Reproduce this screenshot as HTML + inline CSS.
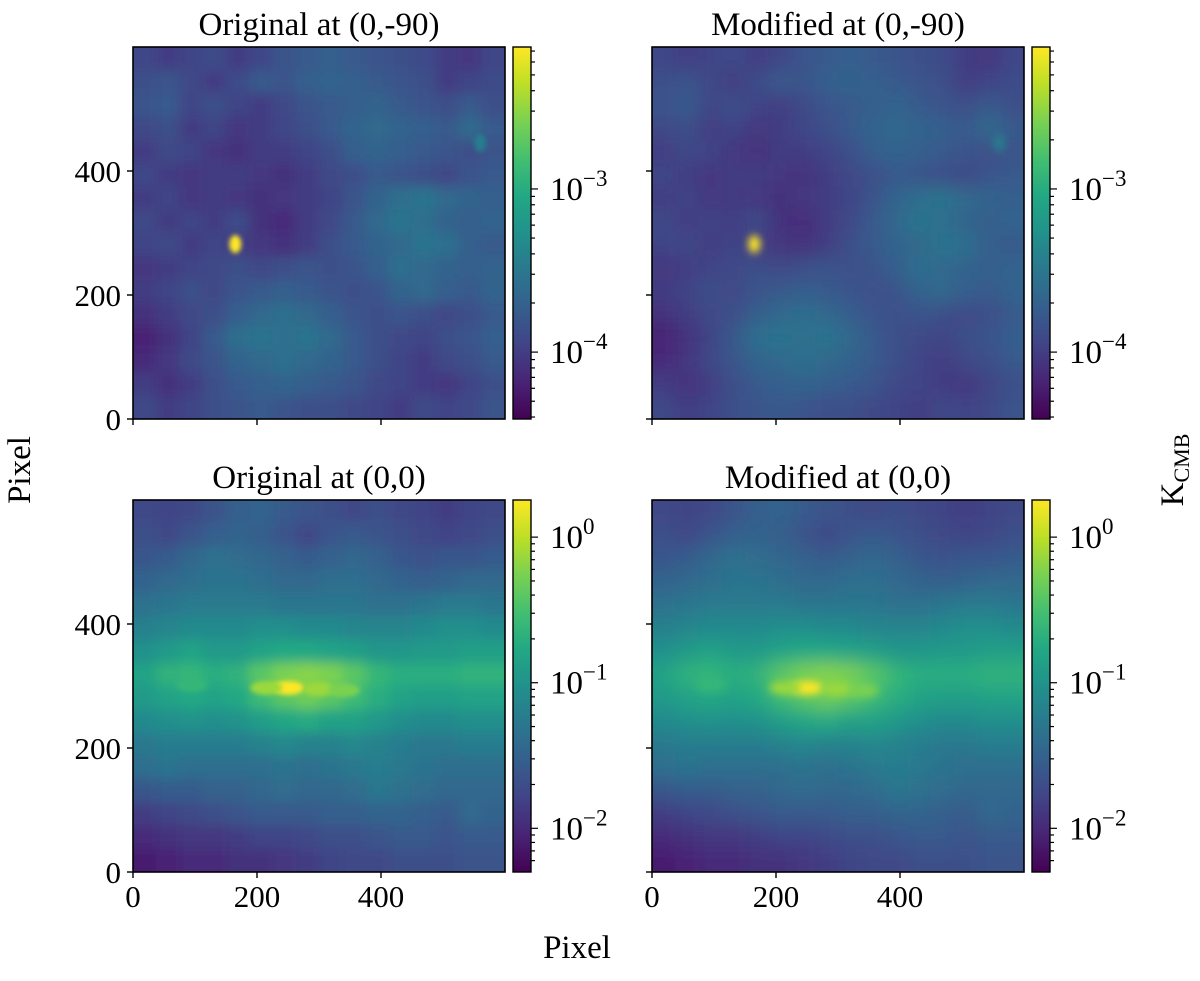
<!DOCTYPE html>
<html><head><meta charset="utf-8"><style>
body{margin:0;background:#fff;}
svg text{font-family:"Liberation Serif",serif;fill:#000;}
</style></head><body>
<svg id="fig" width="1200" height="976" viewBox="0 0 1200 976" xmlns="http://www.w3.org/2000/svg">
<defs>
<linearGradient id="vir" x1="0" y1="1" x2="0" y2="0">
<stop offset="0" stop-color="#440154"/><stop offset="0.1" stop-color="#482475"/><stop offset="0.2" stop-color="#414487"/><stop offset="0.3" stop-color="#355f8d"/><stop offset="0.4" stop-color="#2a788e"/><stop offset="0.5" stop-color="#21918c"/><stop offset="0.6" stop-color="#22a884"/><stop offset="0.7" stop-color="#44bf70"/><stop offset="0.8" stop-color="#7ad151"/><stop offset="0.9" stop-color="#bddf26"/><stop offset="1" stop-color="#fde725"/>
</linearGradient>
<filter id="b1" x="-10%" y="-10%" width="120%" height="120%"><feGaussianBlur stdDeviation="6"/></filter>
<filter id="b2" x="-10%" y="-10%" width="120%" height="120%"><feGaussianBlur stdDeviation="9"/></filter>
<filter id="s1" x="-100%" y="-100%" width="300%" height="300%"><feGaussianBlur stdDeviation="2.5"/></filter>
<filter id="s2" x="-100%" y="-100%" width="300%" height="300%"><feGaussianBlur stdDeviation="4"/></filter>
</defs>
<g id="root"></g>
</svg>
<script>
// normalized colour values (0 = colorbar bottom, 1 = colorbar top), rows top->bottom
const mapPolar = [
[.21,.18,.20,.23,.18,.21,.26,.28,.30,.28,.26,.24,.23,.18,.16,.21],
[.24,.26,.22,.18,.23,.28,.26,.30,.32,.30,.28,.26,.24,.18,.20,.23],
[.26,.28,.21,.24,.20,.18,.22,.26,.28,.30,.32,.28,.26,.24,.28,.24],
[.22,.24,.18,.20,.16,.18,.21,.24,.28,.32,.34,.32,.30,.28,.34,.28],
[.18,.22,.20,.16,.14,.18,.18,.20,.24,.30,.32,.30,.28,.26,.24,.26],
[.21,.18,.16,.18,.18,.16,.14,.18,.22,.24,.28,.26,.24,.22,.26,.28],
[.18,.20,.16,.18,.16,.14,.16,.18,.20,.26,.32,.36,.38,.34,.32,.30],
[.22,.18,.20,.18,.23,.14,.12,.18,.22,.28,.34,.38,.36,.32,.30,.32],
[.20,.22,.18,.20,.18,.16,.14,.18,.24,.28,.32,.34,.38,.36,.30,.28],
[.16,.18,.20,.22,.24,.22,.24,.26,.24,.26,.30,.36,.34,.32,.30,.32],
[.18,.20,.24,.22,.26,.28,.30,.28,.26,.24,.26,.32,.34,.30,.28,.32],
[.14,.18,.22,.24,.30,.34,.36,.34,.30,.26,.24,.26,.24,.22,.24,.28],
[.10,.14,.20,.28,.36,.38,.36,.38,.34,.28,.24,.22,.20,.24,.26,.30],
[.12,.16,.22,.26,.32,.34,.36,.34,.32,.28,.24,.20,.18,.22,.24,.28],
[.18,.14,.18,.24,.28,.30,.32,.30,.28,.26,.22,.20,.18,.16,.20,.24],
[.22,.18,.20,.24,.26,.28,.26,.24,.24,.22,.20,.18,.22,.20,.22,.26]];
const mapPlane = [
[.22,.20,.22,.26,.30,.32,.28,.26,.24,.22,.24,.22,.20,.18,.20,.22],
[.24,.22,.26,.30,.32,.30,.26,.22,.26,.28,.26,.24,.22,.20,.22,.24],
[.27,.29,.33,.37,.35,.33,.31,.29,.31,.33,.31,.27,.25,.27,.27,.29],
[.32,.34,.36,.38,.38,.36,.34,.34,.36,.36,.34,.32,.30,.32,.34,.34],
[.37,.39,.41,.41,.41,.41,.39,.39,.39,.39,.37,.37,.39,.41,.41,.39],
[.43,.45,.47,.47,.47,.49,.49,.47,.47,.45,.45,.45,.47,.49,.49,.47],
[.50,.54,.58,.54,.54,.58,.60,.60,.58,.56,.52,.52,.54,.54,.56,.56],
[.58,.64,.66,.62,.64,.74,.80,.82,.80,.74,.66,.62,.62,.62,.64,.64],
[.54,.58,.60,.58,.60,.68,.74,.78,.74,.68,.62,.58,.56,.56,.58,.58],
[.47,.49,.51,.49,.51,.55,.59,.61,.57,.57,.53,.49,.47,.47,.49,.49],
[.40,.42,.42,.42,.42,.44,.46,.44,.44,.46,.44,.42,.40,.40,.42,.42],
[.36,.38,.36,.36,.36,.36,.38,.36,.38,.40,.42,.40,.38,.36,.36,.36],
[.27,.29,.29,.31,.31,.33,.35,.33,.33,.35,.39,.37,.35,.33,.33,.33],
[.18,.20,.22,.24,.26,.28,.28,.28,.30,.30,.32,.32,.30,.28,.34,.32],
[.12,.14,.16,.16,.18,.20,.20,.22,.24,.24,.26,.28,.28,.26,.28,.28],
[.08,.10,.12,.12,.14,.14,.16,.18,.20,.22,.22,.24,.24,.24,.26,.26]];
// point sources: [pixelX, pixelY, normalized value]
const srcPolar = [[165,282,1.0],[560,445,0.42]];
const srcPlane = [[250,297,1.0],[300,295,0.85],[215,297,0.85],[340,293,0.8],[95,302,0.66]];
const xTicks = [0,200,400];
const yTicks = [0,200,400];
const titles = ["Original at (0,-90)","Modified at (0,-90)","Original at (0,0)","Modified at (0,0)"];
const cbTop = {min:-4.41,max:-2.13,majors:[-4,-3]};
const cbBot = {min:-2.30,max:0.255,majors:[-2,-1,0]};

const NS="http://www.w3.org/2000/svg";
const root=document.getElementById('root');
const stops=[[0,[68,1,84]],[.1,[72,36,117]],[.2,[65,68,135]],[.3,[53,95,141]],[.4,[42,120,142]],[.5,[33,145,140]],[.6,[34,168,132]],[.7,[68,191,112]],[.8,[122,209,81]],[.9,[189,223,38]],[1,[253,231,37]]];
function vir(t){t=Math.max(0,Math.min(1,t));for(let i=1;i<stops.length;i++){if(t<=stops[i][0]){const a=stops[i-1],b=stops[i],f=(t-a[0])/(b[0]-a[0]);const c=a[1].map((v,k)=>Math.round(v+(b[1][k]-v)*f));return `rgb(${c})`;}}return 'rgb(253,231,37)';}
function el(tag,attrs,parent){const e=document.createElementNS(NS,tag);for(const k in attrs)e.setAttribute(k,attrs[k]);(parent||root).appendChild(e);return e;}
function txt(x,y,s,size,anchor,parent){const t=el('text',{x:x,y:y,'font-size':size,'text-anchor':anchor||'middle'},parent);t.textContent=s;return t;}

const W=372,H=372;
const panels=[{x:133,y:47,map:mapPolar,src:srcPolar,blur:'b1',sb:'s1',cb:cbTop},{x:652,y:47,map:mapPolar,src:srcPolar,blur:'b2',sb:'s2',cb:cbTop},
{x:133,y:500,map:mapPlane,src:srcPlane,blur:'b1',sb:'s1',cb:cbBot},{x:652,y:500,map:mapPlane,src:srcPlane,blur:'b2',sb:'s2',cb:cbBot}];

panels.forEach((p,pi)=>{
  const sx=v=>p.x+v/600*W, sy=v=>p.y+H-v/600*H;
  const cp=el('clipPath',{id:'cp'+pi});
  el('rect',{x:p.x,y:p.y,width:W,height:H},cp);
  const g=el('g',{'clip-path':`url(#cp${pi})`});
  
  
  const gb=el('g',{filter:`url(#${p.blur})`},g);
  const n=p.map.length,m=p.map[0].length,cw=W/m,ch=H/n;
  p.map.forEach((row,r)=>row.forEach((v,c)=>{
    let x0=p.x+c*cw,y0=p.y+r*ch,w=cw+0.6,h=ch+0.6;
    if(c===0){x0-=30;w+=30;} if(c===m-1){w+=30;}
    if(r===0){y0-=30;h+=30;} if(r===n-1){h+=30;}
    const cell=el('rect',{x:x0,y:y0,width:w,height:h,fill:vir(v)},gb);
    
    
  }));
  p.src.forEach(s=>{
    const big=pi>=2;
    const e=el('ellipse',{cx:sx(s[0]),cy:sy(s[1]),rx:big?16:6,ry:big?7:9,fill:vir(s[2]),filter:`url(#${p.sb})`},g);
    
    
  });
  const fr=el('rect',{x:p.x,y:p.y,width:W,height:H,fill:'none',stroke:'#000','stroke-width':1.6});
  
  
  xTicks.forEach(t=>{el('line',{x1:sx(t),x2:sx(t),y1:p.y+H,y2:p.y+H+6,stroke:'#000','stroke-width':1.4});
    if(pi>=2){const l=txt(sx(t),p.y+H+35,String(t),31);}});
  yTicks.forEach(t=>{el('line',{x1:p.x-6,x2:p.x,y1:sy(t),y2:sy(t),stroke:'#000','stroke-width':1.4});
    if(pi%2===0){const l=txt(p.x-12,sy(t)+11,String(t),31,'end');}});
  const tt=txt(p.x+W/2,p.y-12,titles[pi],33);
  
  
  // colorbar
  const cx=p.x+380,cwid=18,cb=p.cb;
  const cy=v=>p.y+H-(v-cb.min)/(cb.max-cb.min)*H;
  const bar=el('rect',{x:cx,y:p.y,width:cwid,height:H,fill:'url(#vir)',stroke:'#000','stroke-width':1.4});
  
  
  for(let d=Math.floor(cb.min);d<=Math.ceil(cb.max);d++){
    for(let k=1;k<10;k++){const v=d+Math.log10(k);if(v<cb.min||v>cb.max)continue;
      el('line',{x1:cx+cwid,x2:cx+cwid+(k===1?7:4),y1:cy(v),y2:cy(v),stroke:'#000','stroke-width':1.2});}
  }
  cb.majors.forEach(v=>{
    const t=el('text',{x:cx+37,y:cy(v)+11,'font-size':33});
    
    
    t.textContent='10';
    const sp=el('tspan',{dy:-14,'font-size':23},t);sp.textContent=v===0?'0':'\u2212'+(-v);
  });
});
const xl=txt(577,958,'Pixel',33);
const yl=txt(0,0,'Pixel',33);yl.setAttribute('transform','translate(30,470) rotate(-90)');
const kl=el('text',{transform:'translate(1183,470) rotate(-90)','font-size':33,'text-anchor':'middle'});

kl.textContent='K';const ks=el('tspan',{dy:6,'font-size':22},kl);ks.textContent='CMB';
</script>
</body></html>
